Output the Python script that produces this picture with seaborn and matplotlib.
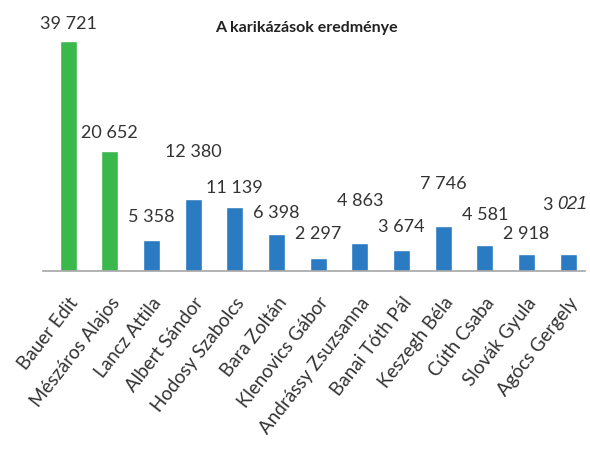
import matplotlib
matplotlib.use("Agg")
import matplotlib.pyplot as plt
import seaborn as sns
import pandas as pd

# --- DATA ---
NAMES = ['Bauer Edit', 'Mészáros Alajos', 'Lancz Attila', 'Albert Sándor', 'Hodosy Szabolcs',
         'Bara Zoltán', 'Klenovics Gábor', 'Andrássy Zsuzsanna', 'Banai Tóth Pál', 'Keszegh Béla',
         'Cúth Csaba', 'Slovák Gyula', 'Agócs Gergely']
VOTES = [39721, 20652, 5358, 12380, 11139, 6398, 2297, 4863, 3674, 7746, 4581, 2918, 3021]
GROUP = ['elected', 'elected'] + ['other'] * 11
VALUE_TEXT = ['39 721', '20 652', '5 358', '12 380', '11 139', '6 398', '2 297', '4 863',
              '3 674', '7 746', '4 581', '2 918', '3 021']
# label offset above bar top (points) - labels are staggered in the original
LABEL_OFFSET = [13, 14, 17, 35, 14, 16, 18, 31, 17, 31, 22, 15, 36]

GREEN = '#3bb84b'
BLUE = '#2b7bc3'

sns.set_style("white")
plt.rcParams['font.family'] = ['Lato', 'DejaVu Sans']

df = pd.DataFrame({'name': NAMES, 'votes': VOTES, 'group': GROUP})

fig = plt.figure(figsize=(5.9, 4.52), dpi=100)
ax = fig.add_axes([0.073, 0.398, 0.919, 0.558])

sns.barplot(data=df, x='name', y='votes', hue='group',
            palette={'elected': GREEN, 'other': BLUE}, saturation=1,
            width=0.41, dodge=False, legend=False, ax=ax)

for i, (v, txt, off) in enumerate(zip(VOTES, VALUE_TEXT, LABEL_OFFSET)):
    if i == len(VOTES) - 1:
        # last label: thousands part upright, remainder in italics
        head, tail = txt.split(' ')
        t1 = ax.annotate(head + ' ', (i, v), xytext=(-13, off), textcoords='offset points',
                         ha='center', va='center', fontsize=13, color='#333333')
        ax.annotate(tail, xy=(1, 0.5), xycoords=t1, ha='left', va='center',
                    fontsize=13, color='#333333', fontstyle='italic',
                    family=['Liberation Sans', 'DejaVu Sans'])
    else:
        ax.annotate(txt, (i, v), xytext=(0, off), textcoords='offset points',
                    ha='center', va='center', fontsize=13, color='#333333')

ax.set_xlim(-0.6, 12.41)
ax.set_ylim(0, 43500)
ax.set_yticks([])
ax.set_xlabel('')
ax.set_ylabel('')
for s in ['top', 'right', 'left']:
    ax.spines[s].set_visible(False)
ax.spines['bottom'].set_color('#a6a6a6')
ax.spines['bottom'].set_linewidth(1.2)

ax.tick_params(axis='x', length=0, pad=16)
plt.setp(ax.get_xticklabels(), rotation=52, ha='right', rotation_mode='anchor',
         fontsize=13.5, color='#333333')

fig.text(0.52, 0.938, 'A karikázások eredménye', ha='center', va='center',
         fontsize=11.5, fontweight='bold', color='#222222')

fig.savefig('out.png', dpi=100)
